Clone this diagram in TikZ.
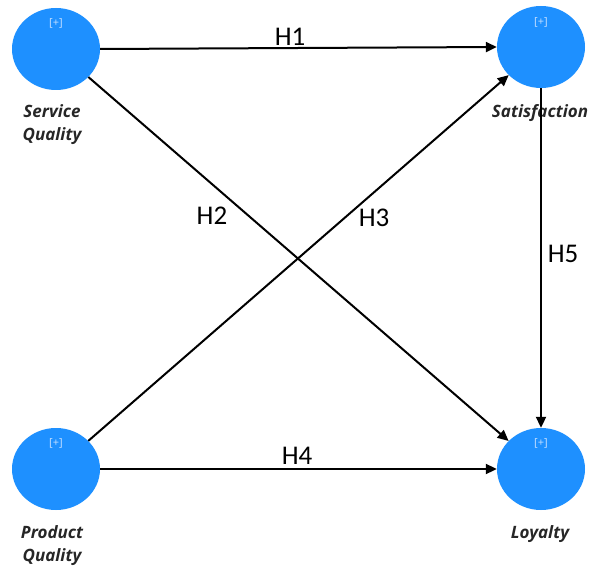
\documentclass[tikz,border=0pt]{standalone}
\usepackage{fontspec}
\setmainfont{Carlito}
\newfontfamily\lvfont{Open Sans}
\usetikzlibrary{shapes.geometric,arrows.meta}
\definecolor{lvblue}{RGB}{30,144,255}
\definecolor{plusc}{RGB}{200,225,255}
\begin{document}
\begin{tikzpicture}[x=1pt,y=-1pt,
  lv/.style={ellipse,fill=lvblue,draw=none,minimum width=88pt,minimum height=82pt,inner sep=0pt},
  plus/.style={font=\lvfont\fontsize{11}{12}\selectfont,text=plusc},
  lvlabel/.style={font=\lvfont\fontsize{17}{23}\selectfont\bfseries\itshape,align=center,text=black!85},
  conn/.style={line width=2pt,-{Triangle[length=11pt,width=10pt]}},
  hlab/.style={font=\fontsize{27}{30}\selectfont}]
\useasboundingbox (0,0) rectangle (594,569);
\node[lv] (sq) at (56,49) {};
\node[lv] (sat) at (541,47) {};
\node[lv] (pq) at (56,469) {};
\node[lv] (loy) at (541,469) {};
\node[plus] (sqp) at (56,23) {[+]};
\node[plus] (satp) at (541,22) {[+]};
\node[plus] (pqp) at (56,443) {[+]};
\node[plus] (loyp) at (541,443) {[+]};
\node[lvlabel] (sql) at (52,125) {Service\\Quality};
\node[lvlabel] (satl) at (540,113) {Satisfaction};
\node[lvlabel] (pql) at (52,546) {Product\\Quality};
\node[lvlabel] (loyl) at (540,534) {Loyalty};
\draw[conn] (sq.east) -- (sat.west);
\draw[conn] (sq) -- (loy);
\draw[conn] (pq) -- (sat);
\draw[conn] (pq.east) -- (loy.west);
\draw[conn] (sat.south) -- (loy.north);
\node[hlab] (h1) at (290,37) {H1};
\node[hlab] (h2) at (212,216) {H2};
\node[hlab] (h3) at (374,218) {H3};
\node[hlab] (h4) at (297,456) {H4};
\node[hlab] (h5) at (563,254) {H5};
\end{tikzpicture}
\end{document}
